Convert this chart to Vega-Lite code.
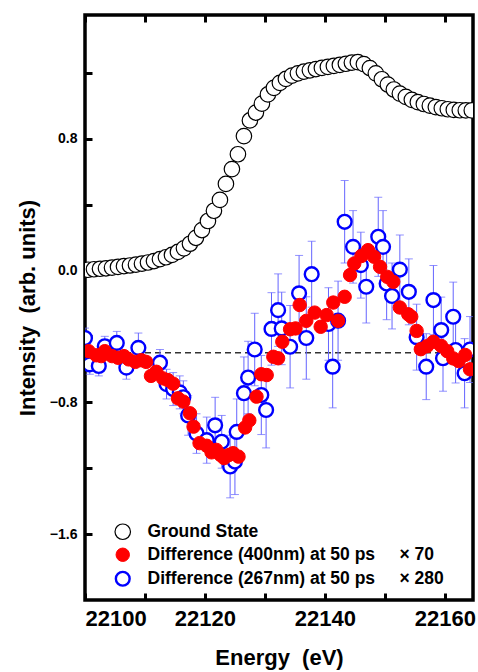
{
  "$schema": "https://vega.github.io/schema/vega-lite/v6.json",
  "width": 388,
  "height": 585,
  "autosize": {"type": "none"},
  "padding": {"left": 85, "top": 15, "right": 5, "bottom": 72},
  "background": "white",
  "config": {"view": {"stroke": "black", "strokeWidth": 3.5}, "font": "Liberation Sans"},
  "data": {"values": [
    {"s":"gs","e":22100.5,"v":0.004},{"s":"gs","e":22101.5,"v":0.007},{"s":"gs","e":22102.5,"v":0.010},{"s":"gs","e":22103.5,"v":0.013},
    {"s":"gs","e":22104.5,"v":0.017},{"s":"gs","e":22105.5,"v":0.021},{"s":"gs","e":22106.5,"v":0.026},{"s":"gs","e":22107.5,"v":0.030},
    {"s":"gs","e":22108.5,"v":0.035},{"s":"gs","e":22109.5,"v":0.041},{"s":"gs","e":22110.5,"v":0.048},{"s":"gs","e":22111.5,"v":0.057},
    {"s":"gs","e":22112.5,"v":0.068},{"s":"gs","e":22113.5,"v":0.080},{"s":"gs","e":22114.5,"v":0.094},{"s":"gs","e":22115.5,"v":0.112},
    {"s":"gs","e":22116.5,"v":0.134},{"s":"gs","e":22117.5,"v":0.162},{"s":"gs","e":22118.5,"v":0.198},{"s":"gs","e":22119.5,"v":0.245},
    {"s":"gs","e":22120.5,"v":0.300},{"s":"gs","e":22121.5,"v":0.362},{"s":"gs","e":22122.5,"v":0.428},{"s":"gs","e":22123.5,"v":0.525},
    {"s":"gs","e":22124.5,"v":0.615},{"s":"gs","e":22125.5,"v":0.705},{"s":"gs","e":22126.5,"v":0.815},{"s":"gs","e":22127.5,"v":0.910},
    {"s":"gs","e":22128.5,"v":0.958},{"s":"gs","e":22129.5,"v":1.012},{"s":"gs","e":22130.5,"v":1.068},{"s":"gs","e":22131.5,"v":1.108},
    {"s":"gs","e":22132.5,"v":1.138},{"s":"gs","e":22133.5,"v":1.162},{"s":"gs","e":22134.5,"v":1.182},{"s":"gs","e":22135.5,"v":1.196},
    {"s":"gs","e":22136.5,"v":1.206},{"s":"gs","e":22137.5,"v":1.214},{"s":"gs","e":22138.5,"v":1.222},{"s":"gs","e":22139.5,"v":1.229},
    {"s":"gs","e":22140.5,"v":1.235},{"s":"gs","e":22141.5,"v":1.241},{"s":"gs","e":22142.5,"v":1.247},{"s":"gs","e":22143.5,"v":1.254},
    {"s":"gs","e":22144.5,"v":1.261},{"s":"gs","e":22145.5,"v":1.264},{"s":"gs","e":22146.5,"v":1.252},{"s":"gs","e":22147.5,"v":1.228},
    {"s":"gs","e":22148.5,"v":1.196},{"s":"gs","e":22149.5,"v":1.160},{"s":"gs","e":22150.5,"v":1.128},{"s":"gs","e":22151.5,"v":1.098},
    {"s":"gs","e":22152.5,"v":1.073},{"s":"gs","e":22153.5,"v":1.053},{"s":"gs","e":22154.5,"v":1.035},{"s":"gs","e":22155.5,"v":1.021},
    {"s":"gs","e":22156.5,"v":1.010},{"s":"gs","e":22157.5,"v":1.000},{"s":"gs","e":22158.5,"v":0.991},{"s":"gs","e":22159.5,"v":0.984},
    {"s":"gs","e":22160.5,"v":0.978},{"s":"gs","e":22161.5,"v":0.974},{"s":"gs","e":22162.5,"v":0.972},{"s":"gs","e":22163.5,"v":0.971},
    {"s":"gs","e":22164.5,"v":0.971},
    {"s":"d267","e":22100.0,"v":-0.41,"err":0.06},{"s":"d267","e":22100.8,"v":-0.57,"err":0.06},{"s":"d267","e":22102.3,"v":-0.58,"err":0.06},
    {"s":"d267","e":22103.3,"v":-0.46,"err":0.06},{"s":"d267","e":22105.3,"v":-0.44,"err":0.07},{"s":"d267","e":22106.9,"v":-0.59,"err":0.07},
    {"s":"d267","e":22108.9,"v":-0.47,"err":0.09},{"s":"d267","e":22112.5,"v":-0.56,"err":0.08},{"s":"d267","e":22113.6,"v":-0.69,"err":0.09},
    {"s":"d267","e":22114.7,"v":-0.72,"err":0.10},{"s":"d267","e":22115.8,"v":-0.74,"err":0.10},{"s":"d267","e":22116.4,"v":-0.77,"err":0.10},
    {"s":"d267","e":22117.2,"v":-0.88,"err":0.12},{"s":"d267","e":22118.6,"v":-0.99,"err":0.12},{"s":"d267","e":22120.3,"v":-1.03,"err":0.14},
    {"s":"d267","e":22121.7,"v":-0.94,"err":0.17},{"s":"d267","e":22122.8,"v":-1.04,"err":0.16},{"s":"d267","e":22124.2,"v":-1.19,"err":0.19},
    {"s":"d267","e":22125.0,"v":-1.16,"err":0.20},{"s":"d267","e":22125.3,"v":-0.98,"err":0.20},{"s":"d267","e":22126.5,"v":-0.745,"err":0.22},
    {"s":"d267","e":22127.2,"v":-0.65,"err":0.22},{"s":"d267","e":22128.3,"v":-0.48,"err":0.22},{"s":"d267","e":22129.4,"v":-0.756,"err":0.24},
    {"s":"d267","e":22130.2,"v":-0.847,"err":0.23},{"s":"d267","e":22131.1,"v":-0.355,"err":0.22},{"s":"d267","e":22132.2,"v":-0.241,"err":0.22},
    {"s":"d267","e":22132.8,"v":-0.352,"err":0.22},{"s":"d267","e":22134.2,"v":-0.463,"err":0.25},{"s":"d267","e":22135.7,"v":-0.139,"err":0.23},
    {"s":"d267","e":22136.9,"v":-0.41,"err":0.25},{"s":"d267","e":22137.8,"v":-0.023,"err":0.20},{"s":"d267","e":22140.6,"v":-0.325,"err":0.22},
    {"s":"d267","e":22141.3,"v":-0.584,"err":0.25},{"s":"d267","e":22142.2,"v":-0.305,"err":0.24},{"s":"d267","e":22143.3,"v":0.295,"err":0.25},
    {"s":"d267","e":22144.7,"v":0.143,"err":0.22},{"s":"d267","e":22146.0,"v":0.032,"err":0.20},{"s":"d267","e":22146.9,"v":-0.099,"err":0.22},
    {"s":"d267","e":22148.9,"v":0.204,"err":0.24},{"s":"d267","e":22149.7,"v":0.143,"err":0.22},{"s":"d267","e":22150.3,"v":-0.079,"err":0.22},
    {"s":"d267","e":22151.2,"v":-0.155,"err":0.20},{"s":"d267","e":22152.5,"v":0.005,"err":0.21},{"s":"d267","e":22154.0,"v":-0.13,"err":0.20},
    {"s":"d267","e":22155.3,"v":-0.405,"err":0.20},{"s":"d267","e":22156.9,"v":-0.584,"err":0.20},{"s":"d267","e":22158.1,"v":-0.18,"err":0.21},
    {"s":"d267","e":22159.4,"v":-0.362,"err":0.20},{"s":"d267","e":22159.7,"v":-0.533,"err":0.20},{"s":"d267","e":22161.4,"v":-0.281,"err":0.21},
    {"s":"d267","e":22161.8,"v":-0.483,"err":0.20},{"s":"d267","e":22163.3,"v":-0.624,"err":0.21},{"s":"d267","e":22164.2,"v":-0.48,"err":0.20},
    {"s":"d400","e":22100.6,"v":-0.49},{"s":"d400","e":22101.9,"v":-0.515},{"s":"d400","e":22102.7,"v":-0.52},{"s":"d400","e":22103.3,"v":-0.49},
    {"s":"d400","e":22104.5,"v":-0.52},{"s":"d400","e":22105.5,"v":-0.53},{"s":"d400","e":22106.5,"v":-0.52},{"s":"d400","e":22107.3,"v":-0.54},
    {"s":"d400","e":22108.4,"v":-0.555},{"s":"d400","e":22109.4,"v":-0.545},{"s":"d400","e":22110.2,"v":-0.555},{"s":"d400","e":22111.0,"v":-0.64},
    {"s":"d400","e":22111.9,"v":-0.615},{"s":"d400","e":22113.0,"v":-0.655},{"s":"d400","e":22113.8,"v":-0.665},{"s":"d400","e":22114.7,"v":-0.687},
    {"s":"d400","e":22115.5,"v":-0.776},{"s":"d400","e":22116.4,"v":-0.796},{"s":"d400","e":22117.5,"v":-0.867},{"s":"d400","e":22118.1,"v":-0.948},
    {"s":"d400","e":22119.1,"v":-1.048},{"s":"d400","e":22120.3,"v":-1.064},{"s":"d400","e":22121.1,"v":-1.104},{"s":"d400","e":22121.9,"v":-1.089},
    {"s":"d400","e":22122.6,"v":-1.12},{"s":"d400","e":22123.2,"v":-1.139},{"s":"d400","e":22124.0,"v":-1.12},{"s":"d400","e":22124.7,"v":-1.109},
    {"s":"d400","e":22125.6,"v":-1.13},{"s":"d400","e":22126.7,"v":-0.953},{"s":"d400","e":22127.4,"v":-0.91},{"s":"d400","e":22128.6,"v":-0.766},
    {"s":"d400","e":22129.4,"v":-0.63},{"s":"d400","e":22130.3,"v":-0.635},{"s":"d400","e":22131.4,"v":-0.524},{"s":"d400","e":22132.2,"v":-0.533},
    {"s":"d400","e":22132.9,"v":-0.433},{"s":"d400","e":22134.2,"v":-0.357},{"s":"d400","e":22135.1,"v":-0.352},{"s":"d400","e":22135.8,"v":-0.21},
    {"s":"d400","e":22136.9,"v":-0.306},{"s":"d400","e":22138.3,"v":-0.256},{"s":"d400","e":22139.3,"v":-0.342},{"s":"d400","e":22140.3,"v":-0.271},
    {"s":"d400","e":22141.4,"v":-0.195},{"s":"d400","e":22142.2,"v":-0.306},{"s":"d400","e":22143.3,"v":-0.16},{"s":"d400","e":22144.2,"v":-0.028},
    {"s":"d400","e":22144.9,"v":0.042},{"s":"d400","e":22146.1,"v":0.088},{"s":"d400","e":22147.2,"v":0.123},{"s":"d400","e":22148.2,"v":0.083},
    {"s":"d400","e":22149.2,"v":0.022},{"s":"d400","e":22150.4,"v":-0.039},{"s":"d400","e":22151.4,"v":-0.069},{"s":"d400","e":22152.5,"v":-0.225},
    {"s":"d400","e":22153.9,"v":-0.266},{"s":"d400","e":22154.4,"v":-0.281},{"s":"d400","e":22155.3,"v":-0.367},{"s":"d400","e":22156.0,"v":-0.478},
    {"s":"d400","e":22157.0,"v":-0.46},{"s":"d400","e":22158.1,"v":-0.433},{"s":"d400","e":22159.4,"v":-0.458},{"s":"d400","e":22160.4,"v":-0.49},
    {"s":"d400","e":22161.4,"v":-0.534},{"s":"d400","e":22162.3,"v":-0.55},{"s":"d400","e":22163.4,"v":-0.513},{"s":"d400","e":22164.2,"v":-0.6}
  ]},
  "resolve": {"axis": {"x": "independent"}},
  "layer": [
    {
      "data": {"values": [{"base": -0.5, "from": 22100, "to": 22164.7}]},
      "mark": {"type": "rule", "strokeDash": [6, 4], "color": "#333333", "strokeWidth": 1.5},
      "encoding": {
        "x": {"field": "from", "type": "quantitative", "scale": {"domain": [22100, 22164.7], "nice": false, "zero": false},
          "axis": {"orient": "top", "values": [22100,22110,22120,22130,22140,22150,22160], "labels": false, "title": null, "domain": false, "grid": false,
            "ticks": true, "tickColor": "black", "tickWidth": 3, "tickSize": -7}},
        "x2": {"field": "to"},
        "y": {"field": "base", "type": "quantitative", "title": "Intensity \u00a0(arb. units)", "scale": {"domain": [-2.0, 1.55], "nice": false, "zero": false}}
      }
    },
    {
      "transform": [{"filter": "datum.s === 'd267'"}],
      "mark": {"type": "errorbar", "ticks": {"size": 8, "color": "#6464ff", "strokeWidth": 1}, "rule": {"color": "#6464ff", "strokeWidth": 1}, "clip": true},
      "encoding": {
        "x": {"field": "e", "type": "quantitative", "scale": {"domain": [22100, 22164.7], "nice": false, "zero": false}, "axis": null},
        "y": {"field": "v", "type": "quantitative", "title": "Intensity \u00a0(arb. units)", "scale": {"domain": [-2.0, 1.55], "nice": false, "zero": false}},
        "yError": {"field": "err"}
      }
    },
    {
      "mark": {"type": "point", "shape": "circle", "opacity": 1, "clip": true},
      "encoding": {
        "x": {"field": "e", "type": "quantitative", "scale": {"domain": [22100, 22164.7], "nice": false, "zero": false},
          "axis": {"orient": "bottom", "values": [22100,22110,22120,22130,22140,22150,22160], "format": "d",
            "labelExpr": "datum.value % 20 === 0 ? datum.label : ''",
            "domain": false, "grid": false, "ticks": true, "tickColor": "black", "tickWidth": 3, "tickSize": -7,
            "labelPadding": 15, "labelFontSize": 22, "labelFontWeight": "bold", "labelColor": "black",
            "title": "Energy \u00a0(eV)", "titleFontSize": 22, "titleFontWeight": "bold", "titleColor": "black", "titlePadding": 18}},
        "y": {"field": "v", "type": "quantitative", "title": "Intensity \u00a0(arb. units)", "scale": {"domain": [-2.0, 1.55], "nice": false, "zero": false},
          "axis": {"values": [-1.6,-1.2,-0.8,-0.4,0,0.4,0.8,1.2], "format": ".1f",
            "labelExpr": "round(datum.value*10) % 8 === 0 ? datum.label : ''",
            "domain": false, "grid": false, "ticks": true, "tickColor": "black", "tickWidth": 3, "tickSize": -7,
            "labelPadding": 15, "labelFontSize": 14, "labelFontWeight": "bold", "labelColor": "black",
            "titleFontSize": 22, "titleFontWeight": "bold", "titleColor": "black", "titlePadding": 10}},
        "fill": {"field": "s", "type": "nominal", "scale": {"domain": ["gs","d400","d267"], "range": ["white","#ff0000","white"]},
          "legend": {"orient": "none", "legendX": 29, "legendY": 508, "title": null, "padding": 0, "rowPadding": 3, "labelOffset": 16, "labelLimit": 400,
            "labelFontSize": 17.5, "labelFontWeight": "bold", "labelColor": "black", "symbolType": "circle",
            "labelExpr": "datum.value === 'gs' ? 'Ground State' : datum.value === 'd400' ? 'Difference (400nm) at 50 ps\u00a0\u00a0\u00a0\u00a0\u00a0× 70' : 'Difference (267nm) at 50 ps\u00a0\u00a0\u00a0\u00a0\u00a0× 280'"}},
        "stroke": {"field": "s", "type": "nominal", "scale": {"domain": ["gs","d400","d267"], "range": ["black","#ff0000","#0000ff"]},
          "legend": {"orient": "none", "legendX": 29, "legendY": 508, "title": null, "padding": 0, "rowPadding": 3, "labelOffset": 16, "labelLimit": 400,
            "labelFontSize": 17.5, "labelFontWeight": "bold", "labelColor": "black", "symbolType": "circle",
            "labelExpr": "datum.value === 'gs' ? 'Ground State' : datum.value === 'd400' ? 'Difference (400nm) at 50 ps\u00a0\u00a0\u00a0\u00a0\u00a0× 70' : 'Difference (267nm) at 50 ps\u00a0\u00a0\u00a0\u00a0\u00a0× 280'"}},
        "size": {"field": "s", "type": "nominal", "scale": {"type": "ordinal", "domain": ["gs","d400","d267"], "range": [240, 180, 190]},
          "legend": {"orient": "none", "legendX": 29, "legendY": 508, "title": null, "padding": 0, "rowPadding": 3, "labelOffset": 16, "labelLimit": 400,
            "labelFontSize": 17.5, "labelFontWeight": "bold", "labelColor": "black", "symbolType": "circle",
            "labelExpr": "datum.value === 'gs' ? 'Ground State' : datum.value === 'd400' ? 'Difference (400nm) at 50 ps\u00a0\u00a0\u00a0\u00a0\u00a0× 70' : 'Difference (267nm) at 50 ps\u00a0\u00a0\u00a0\u00a0\u00a0× 280'"}},
        "strokeWidth": {"field": "s", "type": "nominal", "scale": {"type": "ordinal", "domain": ["gs","d400","d267"], "range": [1.2, 1, 2.4]},
          "legend": {"orient": "none", "legendX": 29, "legendY": 508, "title": null, "padding": 0, "rowPadding": 3, "labelOffset": 16, "labelLimit": 400,
            "labelFontSize": 17.5, "labelFontWeight": "bold", "labelColor": "black", "symbolType": "circle",
            "labelExpr": "datum.value === 'gs' ? 'Ground State' : datum.value === 'd400' ? 'Difference (400nm) at 50 ps\u00a0\u00a0\u00a0\u00a0\u00a0× 70' : 'Difference (267nm) at 50 ps\u00a0\u00a0\u00a0\u00a0\u00a0× 280'"}}
      }
    }
  ]
}
